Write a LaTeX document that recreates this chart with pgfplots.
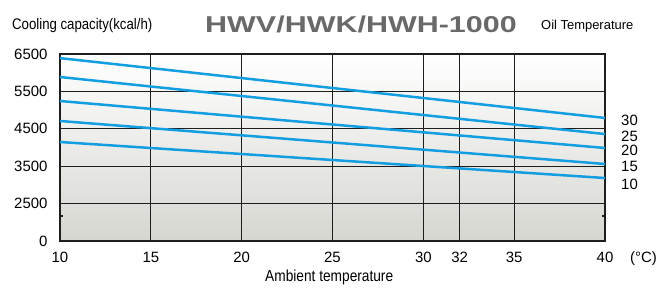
\documentclass[border=0pt]{standalone}
\usepackage{pgfplots}
\pgfplotsset{compat=1.18}
\usepackage{fontspec}
\setmainfont{Liberation Sans}
\newfontfamily\titlefont[FakeStretch=1.33]{Liberation Sans}
\newfontfamily\narrowfont[FakeStretch=0.86]{Liberation Sans}
\definecolor{lineblue}{RGB}{20,158,226}
\definecolor{bgbottom}{RGB}{214,214,209}
\definecolor{titlegray}{RGB}{105,105,105}
\definecolor{gridc}{RGB}{30,30,30}
\begin{document}
\begin{tikzpicture}[x=1bp,y=1bp]
\begin{axis}[
  width=545bp, height=187bp, scale only axis,
  xmin=10, xmax=40, ymin=0, ymax=6500,
  y coord trafo/.code={\pgfmathparse{#1<2500 ? #1/2500 : (#1-1500)/1000}},
  xtick={10,15,20,25,30,32,35,40},
  xticklabels={10,15,20,25,30,32,35,40},
  ytick={0,2500,3500,4500,5500,6500},
  yticklabels={0,2500,3500,4500,5500,6500},
  extra y ticks={1670},
  extra y tick labels={},
  extra y tick style={grid=none, major tick length=3bp, tick style={gridc, line width=1.2bp}},
  major tick length=0pt,
  grid=major,
  major grid style={gridc, line width=0.9bp},
  axis line style={gridc, line width=1.1bp},
  ticklabel style={font=\fontsize{15}{15}\selectfont},
  yticklabel style={xshift=-9bp},
  xticklabel style={anchor=base, yshift=-21.3bp},
  axis background/.style={shade, top color=white, bottom color=bgbottom},
  clip=false,
]
\addplot[lineblue, line width=2.5bp] coordinates {(10,6390) (40,4790)};
\addplot[lineblue, line width=2.5bp] coordinates {(10,5885) (40,4360)};
\addplot[lineblue, line width=2.5bp] coordinates {(10,5243) (40,3987)};
\addplot[lineblue, line width=2.5bp] coordinates {(10,4709) (40,3559)};
\addplot[lineblue, line width=2.5bp] coordinates {(10,4147) (40,3184)};
\end{axis}
\begin{scope}[shift={(-60bp,-52bp)}]
\node[anchor=base west, inner sep=0, font=\narrowfont\fontsize{15.4}{15.4}\selectfont] at (12,263.7) {Cooling capacity(kcal/h)};
\node[anchor=base, inner sep=0, text=titlegray, font=\titlefont\bfseries\fontsize{23}{23}\selectfont] at (361,260.7) {HWV/HWK/HWH-1000};
\node[anchor=base west, inner sep=0, font=\fontsize{13}{13}\selectfont] at (541,264) {Oil Temperature};
\node[anchor=base west, inner sep=0, font=\narrowfont\fontsize{16}{16}\selectfont] at (265,11.3) {Ambient temperature};
\node[anchor=base west, inner sep=0, font=\fontsize{15}{15}\selectfont] at (630,31) {(°C)};
\begin{scope}[every node/.style={anchor=base west, inner sep=0, font=\fontsize{15}{15}\selectfont}]
\node at (621,168) {30};
\node at (621,152) {25};
\node at (621,138) {20};
\node at (621,121.3) {15};
\node at (621,104) {10};
\end{scope}
\end{scope}
\pgfresetboundingbox
\path[use as bounding box] (-60bp,-52bp) rectangle (601bp,241bp);
\end{tikzpicture}
\end{document}
